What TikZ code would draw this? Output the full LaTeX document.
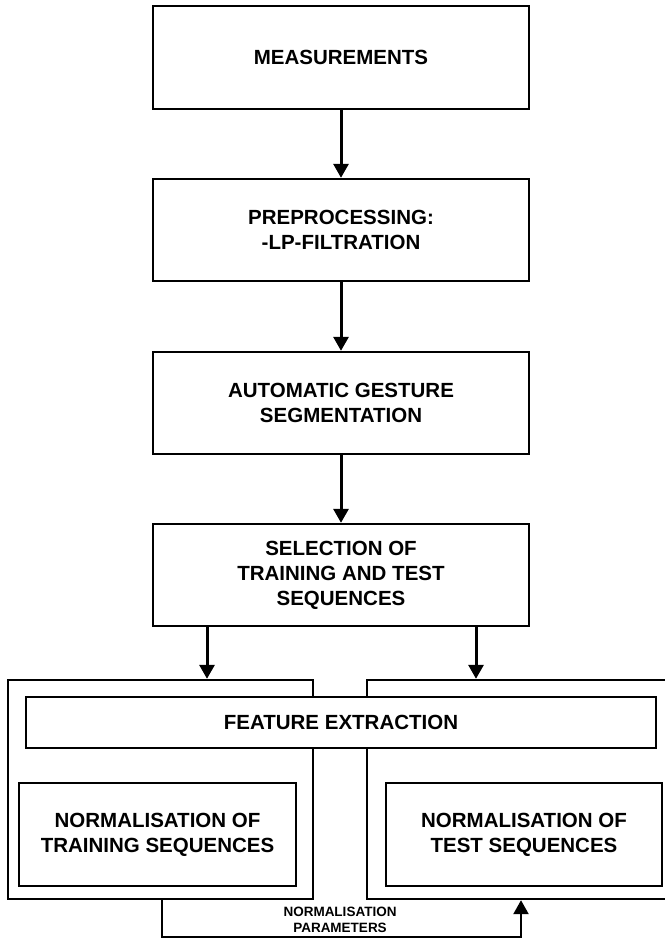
\documentclass[tikz,border=0pt]{standalone}
\usepackage{fontspec}
\setmainfont{Liberation Sans}
\usepackage{tikz}
\usetikzlibrary{arrows.meta,positioning}

\begin{document}
\begin{tikzpicture}[x=1pt,y=-1pt,
  font=\fontsize{20.5}{25}\selectfont\bfseries,
  blk/.style={draw,line width=2.4pt,fill=white,align=center,inner sep=0pt},
  flow/.style={line width=3pt,-{Triangle[length=14pt,width=15pt]}}]
\useasboundingbox (0,0) rectangle (664,939);
% main chain
\node[blk,minimum width=376pt,minimum height=103pt] (meas) at (341,57.5) {MEASUREMENTS};
\node[blk,minimum width=376pt,minimum height=102pt] (prep) at (341,230) {PREPROCESSING:\\-LP-FILTRATION};
\node[blk,minimum width=376pt,minimum height=102pt] (auto) at (341,403) {AUTOMATIC GESTURE\\SEGMENTATION};
\node[blk,minimum width=376pt,minimum height=102pt] (sel) at (341,575) {SELECTION OF\\TRAINING AND TEST\\SEQUENCES};
% training and test frames
\node[blk,minimum width=305pt,minimum height=219pt] (lout) at (160.5,789.5) {};
\node[blk,minimum width=306pt,minimum height=219pt] (rout) at (520,789.5) {};
\node[blk,minimum width=630pt,minimum height=51pt] (feat) at (341,722.5) {FEATURE EXTRACTION};
\node[blk,minimum width=277pt,minimum height=103pt] (ntrain) at (157.5,834.5) {NORMALISATION OF\\TRAINING SEQUENCES};
\node[blk,minimum width=276pt,minimum height=103pt] (ntest) at (524,834.5) {NORMALISATION OF\\TEST SEQUENCES};
\node[font=\fontsize{13.5}{16}\selectfont\bfseries,align=center] (npar) at (340,920) {NORMALISATION\\PARAMETERS};
\coordinate (la) at (207,0);
\coordinate (ra) at (476,0);
\coordinate (lb) at (162,0);
\coordinate (rb) at (521,0);
% connectors
\draw[flow] (meas) -- (prep);
\draw[flow] (prep) -- (auto);
\draw[flow] (auto) -- (sel);
\draw[flow] (sel.south -| la) -- (lout.north -| la);
\draw[flow] (sel.south -| ra) -- (rout.north -| ra);
\draw[flow,line width=2.4pt] (lout.south -| lb) -- ++(0,37) -| (rout.south -| rb);
\end{tikzpicture}
\end{document}
